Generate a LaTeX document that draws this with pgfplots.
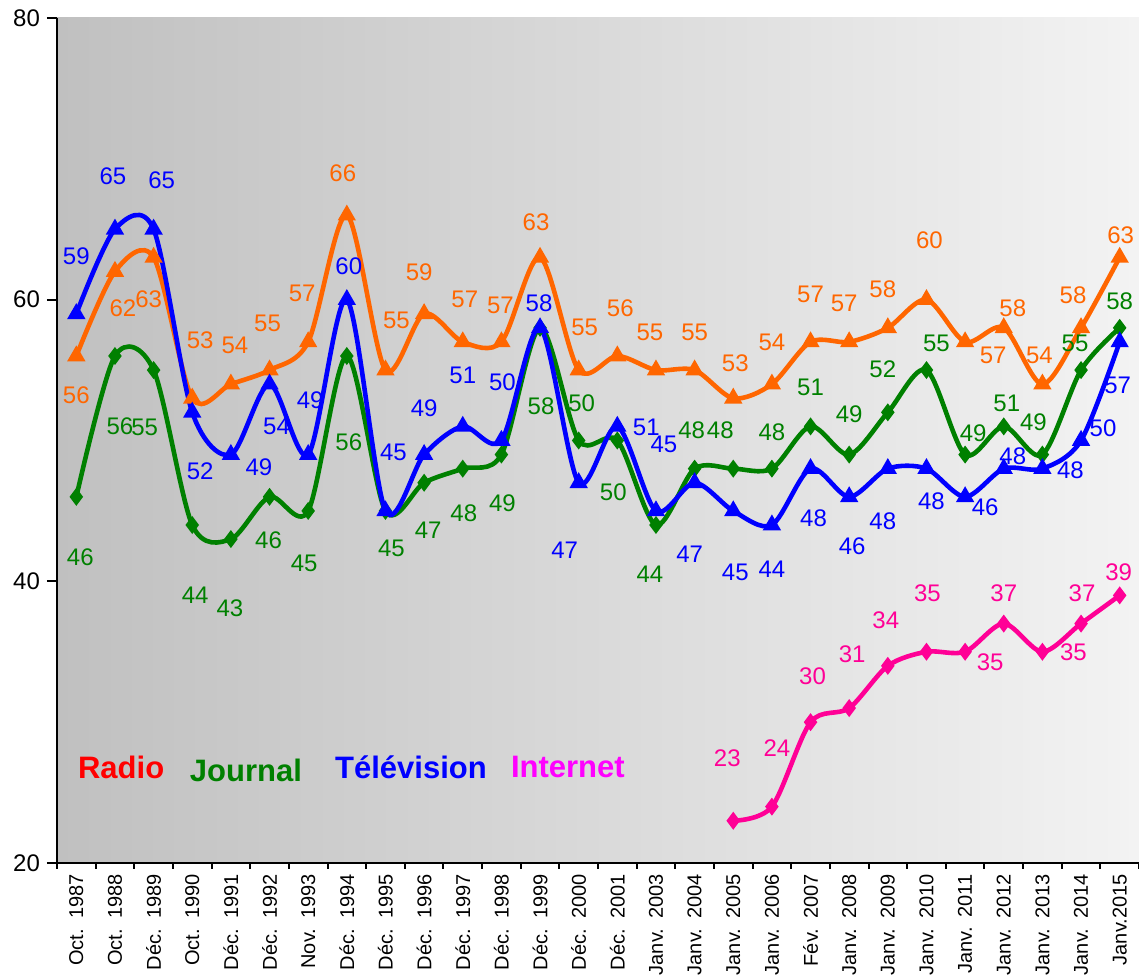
\documentclass[border=0pt]{standalone}
\usepackage{fontspec}
\setmainfont{Liberation Sans}
\usepackage{pgfplots}
\pgfplotsset{compat=1.18}
\usepackage{pgfplotstable}

\definecolor{cradio}{RGB}{255,102,0}
\definecolor{cjournal}{RGB}{0,128,0}
\definecolor{ctele}{RGB}{0,0,255}
\definecolor{cnet}{RGB}{255,0,150}
\definecolor{lradio}{RGB}{255,0,0}
\definecolor{lnet}{RGB}{255,0,255}
\definecolor{bgL}{RGB}{192,192,192}
\definecolor{bgR}{RGB}{243,243,243}

\newcommand{\gap}{\hspace{0.5em}}

% x = position, y = value, dx/dy = label offset in pixels (dy downwards)
\pgfplotstableread{
x y dx dy
0 56 0 39
1 62 8 37
2 63 -5 42
3 53 8 -58
4 54 4 -39
5 55 -2 -47
6 57 -6 -49
7 66 -4 -42
8 55 11 -50
9 59 -5 -42
10 57 2 -43
11 57 -1 -37
12 63 -4 -35
13 55 6 -43
14 56 3 -48
15 55 -6 -38
16 55 0 -38
17 53 2 -35
18 54 0 -42
19 57 0 -48
20 57 -5 -39
21 58 -5 -39
22 60 3 -59
23 57 28 13
24 58 9 -20
25 54 -3 -29
26 58 -8 -33
27 63 1 -22
}\radio

\pgfplotstableread{
x y dx dy
0 46 4 60
1 56 5 70
2 55 -9 57
3 44 3 70
4 43 -1 69
5 46 -1 43
6 45 -4 52
7 56 2 86
8 45 6 37
9 47 4 48
10 48 1 45
11 49 1 49
12 58 1 78
13 50 3 -37
14 50 -4 52
15 44 -6 49
16 48 -3 -38
17 48 -13 -38
18 48 0 -36
19 51 0 -39
20 49 0 -40
21 52 -5 -43
22 55 10 -27
23 49 8 -21
24 51 3 -23
25 49 -9 -32
26 55 -6 -27
27 58 0 -27
}\journal

\pgfplotstableread{
x y dx dy
0 59 0 -58
1 65 -2 -53
2 65 8 -49
3 52 8 59
4 49 28 13
5 54 7 42
6 49 2 -54
7 60 2 -33
8 45 8 -59
9 49 0 -46
10 51 0 -51
11 50 1 -58
12 58 -1 -25
13 47 -14 67
14 51 29 1
15 45 8 -67
16 47 -5 72
17 45 2 61
18 44 0 44
19 48 3 50
20 46 3 49
21 48 -5 53
22 48 5 33
23 46 20 10
24 48 9 -12
25 48 28 2
26 50 22 -12
27 57 -2 43
}\tele

\pgfplotstableread{
x y dx dy
17 23 -6 -63
18 24 5 -59
19 30 2 -46
20 31 3 -54
21 34 -2 -46
22 35 1 -59
23 35 25 10
24 37 0 -30
25 35 31 0
26 37 1 -30
27 39 -1 -23
}\internet

\begin{document}
\begin{tikzpicture}
\begin{axis}[
  name=a,
  width=541pt, height=422.5pt, scale only axis,
  xmin=-0.5, xmax=27.5, ymin=20, ymax=80,
  ytick={20,40,60,80},
  xtick={0,...,27},
  xticklabels={Oct.\gap 1987, Oct.\gap 1988, Déc.\gap 1989, Oct.\gap 1990,
    Déc.\gap 1991, Déc.\gap 1992, Nov.\gap 1993, Déc.\gap 1994,
    Déc.\gap 1995, Déc.\gap 1996, Déc.\gap 1997, Déc.\gap 1998,
    Déc.\gap 1999, Déc.\gap 2000, Déc.\gap 2001, Janv.\gap 2003,
    Janv.\gap 2004, Janv.\gap 2005, Janv.\gap 2006, Fév.\gap 2007,
    Janv.\gap 2008, Janv.\gap 2009, Janv.\gap 2010, Janv.\gap 2011,
    Janv.\gap 2012, Janv.\gap 2013, Janv.\gap 2014, Janv.2015},
  minor xtick={-0.5,0.5,...,27.5},
  axis x line=bottom, axis y line=left,
  axis line style={-, black, line width=1pt},
  tick align=outside,
  major tick length=5pt, minor tick length=3pt,
  major x tick style={draw=none},
  minor x tick style={black, line width=1pt},
  ytick style={black, line width=1pt},
  xticklabel style={rotate=90, anchor=east, inner sep=0.5pt,
    font=\fontsize{10}{12}\selectfont},
  yticklabel style={font=\fontsize{12}{14}\selectfont},
  axis background/.style={left color=bgL, right color=bgR},
  clip=false,
  /pgf/number format/assume math mode=true,
  nodes near coords,
  visualization depends on={0.5*\thisrow{dx}\as\dx},
  visualization depends on={-0.5*\thisrow{dy}\as\dy},
  every node near coord/.append style={anchor=center, inner sep=0pt,
    xshift=\dx pt, yshift=\dy pt, font=\fontsize{12}{14}\selectfont},
  every axis plot/.append style={smooth, tension=0.5, line width=2.3pt},
]
\addplot[color=cradio, mark=triangle*, mark size=3pt, mark options={solid},
  every node near coord/.append style={text=cradio}] table[x=x, y=y] {\radio};
\addplot[color=cjournal, mark=diamond*, mark size=2.6pt, mark options={solid},
  every node near coord/.append style={text=cjournal}] table[x=x, y=y] {\journal};
\addplot[color=ctele, mark=triangle*, mark size=3pt, mark options={solid},
  every node near coord/.append style={text=ctele}] table[x=x, y=y] {\tele};
\addplot[color=cnet, mark=diamond*, mark size=2.6pt, mark options={solid},
  every node near coord/.append style={text=cnet}] table[x=x, y=y] {\internet};

\node[text=lradio, font=\fontsize{15.5}{18}\selectfont\bfseries] at (axis cs:1.16,26.8) {Radio};
\node[text=cjournal, font=\fontsize{15.5}{18}\selectfont\bfseries] at (axis cs:4.39,26.6) {Journal};
\node[text=ctele, font=\fontsize{15.5}{18}\selectfont\bfseries] at (axis cs:8.66,26.8) {Télévision};
\node[text=lnet, font=\fontsize{15.5}{18}\selectfont\bfseries] at (axis cs:12.72,26.8) {Internet};
\end{axis}
\pgfresetboundingbox
\path[use as bounding box] ([xshift=-28.5pt,yshift=-57.5pt]a.south west) rectangle ([yshift=9pt]a.north east);
\end{tikzpicture}
\end{document}
